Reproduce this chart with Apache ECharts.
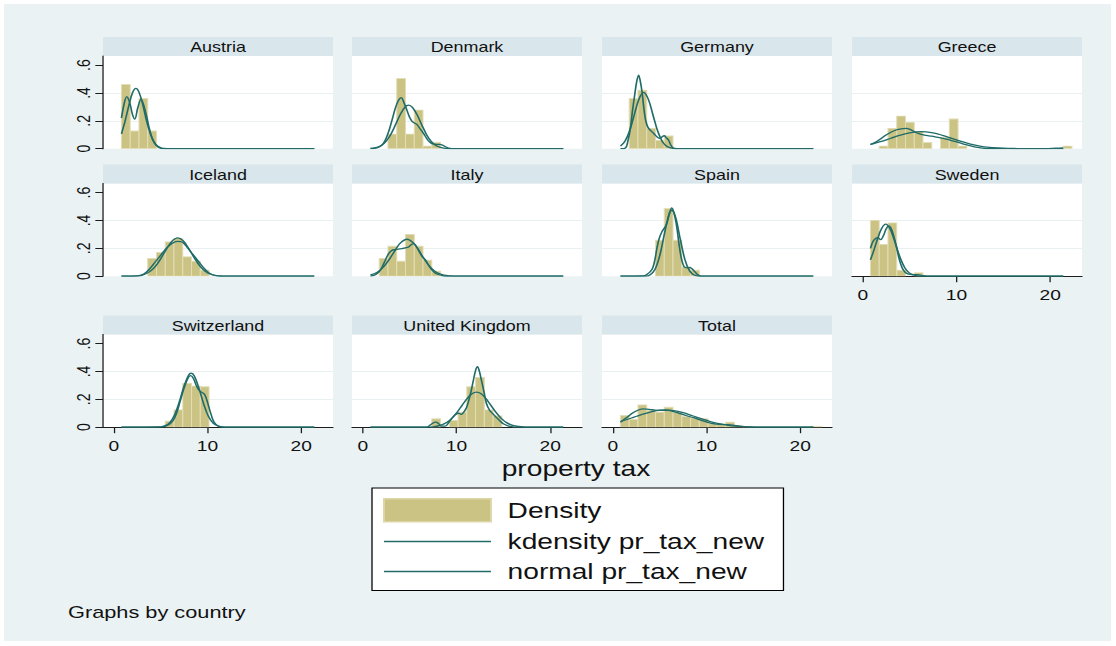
<!DOCTYPE html>
<html><head><meta charset="utf-8">
<script src="https://cdn.jsdelivr.net/npm/echarts@6/dist/echarts.min.js"></script>
<style>
html,body{margin:0;padding:0;background:#ffffff;overflow:hidden;width:1116px;height:646px;}
#bg{position:absolute;left:4px;top:4px;width:1107px;height:637px;background:#eaf2f3;}
#c{position:absolute;left:0;top:0;width:872px;height:646px;transform:scaleX(1.279817);transform-origin:0 0;}
</style></head><body><div id="bg"></div><div id="c"></div>
<script>
// ---------------- data ----------------
const countries = ['Austria','Denmark','Germany','Greece','Iceland','Italy','Spain','Sweden','Switzerland','United Kingdom','Total'];
const xTicks = [0, 10, 20];
const yTicks = [0, 0.2, 0.4, 0.6];
const binEdges = [0.82,1.755,2.69,3.625,4.56,5.495,6.43,7.365,8.30,9.235,10.17,11.105,12.04,12.975,13.91,14.845,15.78,16.715,17.65,18.585,19.52,20.455,21.39,22.325];

const histAustria = [0.46,0.127,0.36,0.127];
const histDenmark = [0,0,0.105,0.504,0.105,0.277,0.019,0.045];
const histGermany = [0,0.361,0.42,0.146,0.06,0.091];
const histGreece = [0,0.019,0.146,0.234,0.189,0.122,0.045,0,0.079,0.213,0.019,0,0,0,0,0,0,0,0,0,0,0,0.019];
const histIceland = [0,0,0,0.127,0.17,0.246,0.27,0.139,0.108,0.043];
const histItaly = [0,0.127,0.215,0.108,0.299,0.215,0.115,0.036];
const histSpain = [0,0,0,0,0.258,0.485,0.258,0.067,0.043];
const histSweden = [0.401,0.229,0.382,0.043,0,0.024];
const histSwitzerland = [0,0,0,0,0,0.043,0.124,0.315,0.295,0.29];
const histUK = [0,0,0,0,0,0,0,0.06,0,0.048,0.108,0.29,0.358,0.124,0.081];
const histTotal = [0.084,0.055,0.16,0.12,0.108,0.143,0.108,0.076,0.065,0.06,0.024,0.019,0.036,0.012,0.005,0,0,0,0,0,0,0,0.005];

const kdAustria = [[0.82,0.22],[1.1,0.32],[1.38,0.373],[1.7,0.33],[2.0,0.245],[2.25,0.213],[2.55,0.29],[2.9,0.356],[3.43,0.253],[3.79,0.146],[4.1,0.075],[4.5,0.026],[5.04,0.002],[5.6,0],[21.4,0]];
const nmAustria = [[0.82,0.107],[1.2,0.196],[1.6,0.307],[2.0,0.401],[2.36,0.433],[2.7,0.404],[3.1,0.315],[3.5,0.2],[3.9,0.107],[4.3,0.047],[4.7,0.017],[5.1,0.005],[5.6,0.001],[6.0,0],[21.4,0]];

const kdDenmark = [[0.82,0],[1.5,0.005],[2.06,0.026],[2.4,0.06],[2.76,0.122],[3.1,0.2],[3.47,0.289],[3.8,0.345],[4.11,0.366],[4.4,0.33],[4.71,0.277],[5.0,0.225],[5.24,0.198],[5.5,0.185],[5.77,0.174],[6.1,0.145],[6.48,0.11],[6.85,0.07],[7.19,0.045],[7.6,0.033],[8.07,0.031],[8.5,0.026],[8.9,0.012],[9.31,0.002],[9.8,0],[21.4,0]];
const nmDenmark = [[0.82,0.002],[1.5,0.009],[2.0,0.024],[2.5,0.054],[3.0,0.104],[3.5,0.173],[4.0,0.245],[4.5,0.299],[4.89,0.313],[5.3,0.297],[5.8,0.243],[6.3,0.17],[6.8,0.102],[7.3,0.052],[7.8,0.023],[8.3,0.009],[8.8,0.003],[9.5,0],[21.4,0]];

const kdGermany = [[0.82,0],[1.35,0.005],[1.6,0.05],[1.88,0.146],[2.1,0.27],[2.34,0.385],[2.55,0.48],[2.76,0.528],[2.95,0.48],[3.12,0.409],[3.3,0.3],[3.47,0.217],[3.65,0.17],[3.83,0.146],[4.2,0.12],[4.53,0.098],[4.8,0.08],[5.06,0.074],[5.3,0.088],[5.49,0.093],[5.7,0.08],[5.95,0.062],[6.2,0.025],[6.48,0.003],[6.8,0],[21.4,0]];
const nmGermany = [[0.82,0.018],[1.3,0.053],[1.8,0.129],[2.3,0.245],[2.8,0.357],[3.29,0.404],[3.8,0.354],[4.3,0.24],[4.8,0.125],[5.3,0.05],[5.8,0.016],[6.3,0.004],[6.8,0.001],[7.3,0],[21.4,0]];

const kdGreece = [[0.82,0.03],[1.5,0.052],[2.0,0.075],[2.49,0.098],[3.0,0.118],[3.55,0.134],[4.1,0.143],[4.62,0.146],[5.1,0.137],[5.51,0.122],[6.0,0.108],[6.58,0.098],[7.1,0.092],[7.65,0.086],[8.3,0.078],[8.89,0.069],[9.4,0.06],[9.96,0.05],[10.6,0.037],[11.2,0.026],[11.8,0.015],[12.45,0.007],[13.0,0.002],[13.5,0],[19.5,0],[20.6,0.004],[21.4,0.006]];
const nmGreece = [[0.82,0.031],[2.0,0.053],[3.0,0.075],[4.0,0.097],[5.0,0.114],[6.22,0.122],[7.5,0.113],[8.5,0.096],[9.5,0.074],[10.5,0.052],[11.5,0.033],[12.5,0.019],[13.5,0.01],[14.5,0.005],[15.5,0.002],[16.5,0.001],[17.5,0],[21.4,0]];

const kdIceland = [[0.82,0],[2.6,0.002],[3.2,0.015],[3.8,0.05],[4.4,0.1],[5.0,0.15],[5.6,0.2],[6.2,0.235],[6.8,0.25],[7.3,0.245],[7.8,0.21],[8.4,0.16],[9.0,0.11],[9.6,0.06],[10.2,0.022],[10.8,0.005],[11.4,0],[21.4,0]];
const nmIceland = [[0.82,0],[2.5,0.003],[3.2,0.012],[3.8,0.031],[4.4,0.067],[5.0,0.124],[5.6,0.192],[6.2,0.25],[6.83,0.275],[7.4,0.255],[8.0,0.198],[8.6,0.131],[9.2,0.073],[9.8,0.034],[10.4,0.013],[11.0,0.004],[11.6,0.001],[12.2,0],[21.4,0]];

const kdItaly = [[0.82,0],[1.4,0.012],[1.9,0.045],[2.3,0.1],[2.76,0.162],[3.1,0.185],[3.47,0.191],[3.8,0.195],[4.18,0.198],[4.55,0.203],[4.89,0.21],[5.15,0.225],[5.42,0.234],[5.7,0.215],[6.0,0.18],[6.35,0.14],[6.7,0.115],[7.05,0.075],[7.4,0.043],[7.75,0.022],[8.1,0.012],[8.5,0.004],[8.8,0],[21.4,0]];
const nmItaly = [[0.82,0.009],[1.5,0.027],[2.0,0.052],[2.5,0.09],[3.0,0.138],[3.5,0.191],[4.0,0.237],[4.71,0.265],[5.4,0.239],[5.9,0.194],[6.4,0.14],[6.9,0.091],[7.4,0.053],[7.9,0.027],[8.4,0.013],[8.9,0.005],[9.5,0.002],[10.0,0],[21.4,0]];

const kdSpain = [[0.82,0],[3.2,0.002],[3.6,0.01],[4.2,0.05],[4.5,0.12],[4.71,0.2],[4.95,0.27],[5.24,0.318],[5.5,0.345],[5.77,0.378],[6.05,0.45],[6.3,0.49],[6.55,0.45],[6.83,0.354],[7.05,0.24],[7.29,0.139],[7.5,0.085],[7.72,0.062],[8.0,0.06],[8.25,0.062],[8.5,0.05],[8.78,0.031],[9.05,0.012],[9.31,0.002],[9.7,0],[21.4,0]];
const nmSpain = [[0.82,0],[3.5,0.001],[4.0,0.011],[4.5,0.048],[5.0,0.144],[5.5,0.3],[6.0,0.444],[6.3,0.473],[6.7,0.423],[7.2,0.267],[7.7,0.119],[8.2,0.038],[8.7,0.008],[9.2,0.001],[9.7,0],[21.4,0]];

const kdSweden = [[0.82,0.2],[1.1,0.25],[1.4,0.272],[1.6,0.277],[1.9,0.262],[2.2,0.29],[2.5,0.34],[2.75,0.36],[3.0,0.345],[3.3,0.29],[3.6,0.21],[3.9,0.12],[4.2,0.06],[4.5,0.03],[4.9,0.015],[5.4,0.012],[5.9,0.011],[6.3,0.006],[6.8,0],[21.4,0]];
const nmSweden = [[0.82,0.117],[1.2,0.189],[1.6,0.272],[2.0,0.341],[2.45,0.373],[2.9,0.341],[3.3,0.272],[3.7,0.189],[4.1,0.114],[4.5,0.059],[4.9,0.027],[5.3,0.011],[5.8,0.003],[6.3,0],[21.4,0]];

const kdSwitzerland = [[0.82,0],[5.3,0.003],[5.8,0.015],[6.3,0.045],[6.7,0.1],[7.1,0.19],[7.5,0.28],[7.9,0.35],[8.2,0.37],[8.5,0.35],[8.8,0.3],[9.1,0.265],[9.4,0.25],[9.7,0.235],[10.0,0.18],[10.3,0.11],[10.6,0.05],[10.9,0.02],[11.3,0.004],[11.7,0],[21.4,0]];
const nmSwitzerland = [[0.82,0],[5.0,0.002],[5.5,0.011],[6.0,0.035],[6.5,0.09],[7.0,0.183],[7.5,0.295],[8.0,0.375],[8.26,0.387],[8.6,0.367],[9.1,0.277],[9.6,0.166],[10.1,0.078],[10.6,0.029],[11.1,0.009],[11.6,0.002],[12.1,0],[21.4,0]];

const kdUK = [[0.82,0],[6.8,0],[7.2,0.015],[7.5,0.03],[7.8,0.036],[8.1,0.025],[8.4,0.008],[8.8,0.008],[9.3,0.045],[9.8,0.085],[10.2,0.1],[10.5,0.092],[10.8,0.11],[11.1,0.145],[11.5,0.24],[11.8,0.335],[12.05,0.41],[12.24,0.435],[12.45,0.4],[12.67,0.335],[12.95,0.25],[13.2,0.17],[13.55,0.12],[13.9,0.096],[14.25,0.07],[14.6,0.048],[15.0,0.025],[15.5,0.01],[16.0,0.002],[16.4,0],[21.4,0]];
const nmUK = [[0.82,0],[6.5,0.001],[7.5,0.003],[8.5,0.018],[9.3,0.05],[10.0,0.101],[10.6,0.157],[11.2,0.211],[11.7,0.241],[12.14,0.251],[12.6,0.241],[13.1,0.209],[13.6,0.164],[14.2,0.108],[14.8,0.062],[15.4,0.031],[16.0,0.013],[16.6,0.005],[17.3,0.001],[18.0,0],[21.4,0]];

const kdTotal = [[0.82,0.036],[1.5,0.07],[2.2,0.105],[2.8,0.125],[3.3,0.131],[3.9,0.128],[4.5,0.122],[5.2,0.12],[5.9,0.12],[6.5,0.112],[7.2,0.097],[7.9,0.082],[8.6,0.068],[9.3,0.053],[10.0,0.038],[10.7,0.026],[11.4,0.02],[12.1,0.018],[12.8,0.015],[13.5,0.008],[14.3,0.003],[15.2,0],[20.5,0],[21.4,0.002]];
const nmTotal = [[0.82,0.041],[2.0,0.066],[3.0,0.089],[4.0,0.109],[5.0,0.122],[5.6,0.124],[6.5,0.119],[7.5,0.104],[8.5,0.082],[9.5,0.059],[10.5,0.039],[11.5,0.023],[12.5,0.012],[13.5,0.006],[14.5,0.0026],[15.5,0.001],[16.5,0],[21.4,0]];

const histData = [histAustria,histDenmark,histGermany,histGreece,histIceland,histItaly,histSpain,histSweden,histSwitzerland,histUK,histTotal];
const kdData = [kdAustria,kdDenmark,kdGermany,kdGreece,kdIceland,kdItaly,kdSpain,kdSweden,kdSwitzerland,kdUK,kdTotal];
const nmData = [nmAustria,nmDenmark,nmGermany,nmGreece,nmIceland,nmItaly,nmSpain,nmSweden,nmSwitzerland,nmUK,nmTotal];

// ---------------- layout & style ----------------
const S = 1116 / 872;            // horizontal stretch of the reference picture
const X = v => v / S;
const FONT = '"Liberation Sans", Arial, sans-serif';
const colLeft = [103, 352, 602, 852];
const rowTop = [56, 183.5, 334.5];
const plotW = 230, plotH = 92.7, stripH = 19;
const barFill = '#cbc384', barStroke = '#e2ddb6';
const lineColor = '#216c68';
const stripColor = '#d9e6eb';
const gridColor = '#e9f0f1';
const axisColor = '#1c1c1c';

const grids = [], xAxes = [], yAxes = [], series = [], graphics = [];
countries.forEach((name, k) => {
  const c = k % 4, r = Math.floor(k / 4);
  const showX = (r === 2) || (k === 7);
  const showY = (c === 0);
  const left = X(colLeft[c]), top = rowTop[r];
  grids.push({left, top, width: X(plotW), height: plotH, show: true, backgroundColor: '#ffffff', borderWidth: 0});
  xAxes.push({
    type: 'value', gridIndex: k, min: -1.15, max: 23.4,
    axisLine: {show: showX, onZero: false, lineStyle: {color: axisColor, width: 1}},
    axisTick: {show: showX, length: 6, customValues: xTicks, lineStyle: {color: axisColor}},
    axisLabel: {show: showX, customValues: xTicks, margin: 11, fontSize: 15, fontFamily: FONT, color: '#111'},
    splitLine: {show: false}
  });
  yAxes.push({
    type: 'value', gridIndex: k, min: 0, max: 0.665, interval: 0.2,
    axisLine: {show: showY, onZero: false, lineStyle: {color: axisColor, width: 1}},
    axisTick: {show: showY, length: 6, customValues: yTicks, lineStyle: {color: axisColor}},
    axisLabel: {show: showY, customValues: yTicks, rotate: 90, margin: 8, fontSize: 14, fontFamily: FONT, color: '#111',
      formatter: v => (v === 0 ? '0' : '.' + Math.round(v * 10))},
    splitLine: {show: true, showMinLine: false, showMaxLine: false, lineStyle: {color: gridColor, width: 1}}
  });
  const bins = [];
  histData[k].forEach((h, i) => { if (h > 0) bins.push([binEdges[i], binEdges[i + 1], h]); });
  series.push({
    type: 'custom', name: 'Density', xAxisIndex: k, yAxisIndex: k, data: bins,
    encode: {x: [0, 1], y: 2}, silent: true, clip: true, z: 2,
    itemStyle: {color: barFill},
    renderItem: (p, api) => {
      const a = api.coord([api.value(0), api.value(2)]);
      const b = api.coord([api.value(1), 0]);
      return {type: 'rect', shape: {x: a[0], y: a[1], width: b[0] - a[0], height: b[1] - a[1]},
        style: {fill: barFill, stroke: barStroke, lineWidth: 0.8}};
    }
  });
  series.push({type: 'line', name: 'kdensity pr_tax_new', xAxisIndex: k, yAxisIndex: k, data: kdData[k],
    symbol: 'none', showSymbol: false, smooth: 0.35, silent: true, z: 3,
    lineStyle: {color: lineColor, width: 1.3}, itemStyle: {color: lineColor}});
  series.push({type: 'line', name: 'normal pr_tax_new', xAxisIndex: k, yAxisIndex: k, data: nmData[k],
    symbol: 'none', showSymbol: false, smooth: 0.35, silent: true, z: 3,
    lineStyle: {color: lineColor, width: 1.3}, itemStyle: {color: lineColor}});
  graphics.push({type: 'rect', shape: {x: left, y: top - stripH, width: X(plotW), height: stripH}, style: {fill: stripColor}, silent: true});
  graphics.push({type: 'text', x: left + X(plotW) / 2, y: top - stripH / 2 + 0.5,
    style: {text: name, fill: '#111', font: '14px ' + FONT, textAlign: 'center', textVerticalAlign: 'middle'}, silent: true});
});

graphics.push({type: 'text', x: X(576), y: 468,
  style: {text: 'property tax', fill: '#111', font: '22px ' + FONT, textAlign: 'center', textVerticalAlign: 'middle'}, silent: true});
graphics.push({type: 'text', x: X(68), y: 612,
  style: {text: 'Graphs by country', fill: '#111', font: '17px ' + FONT, textAlign: 'left', textVerticalAlign: 'middle'}, silent: true});

const lineIcon = 'path://M0,0h0.01v0.01h-0.01z M0,10.7h100v1.8h-100z M99.99,22.99h0.01v0.01h-0.01z';

const chart = echarts.init(document.getElementById('c'), null, {renderer: 'svg'});
chart.setOption({
  backgroundColor: 'transparent',
  animation: false,
  grid: grids,
  xAxis: xAxes,
  yAxis: yAxes,
  series: series,
  graphic: graphics,
  legend: {
    orient: 'vertical', left: X(372), top: 488, selectedMode: false,
    backgroundColor: '#ffffff', borderColor: '#000', borderWidth: 1,
    padding: [10, 15, 8, X(11)], itemWidth: X(107), itemHeight: 23, itemGap: 8,
    textStyle: {fontSize: 22, fontFamily: FONT, color: '#111', padding: [0, 0, 0, 8]},
    data: [
      {name: 'Density', icon: 'rect', itemStyle: {color: barFill, borderColor: '#ddd7a8', borderWidth: 1.5}},
      {name: 'kdensity pr_tax_new', icon: lineIcon, itemStyle: {color: lineColor, borderWidth: 0}},
      {name: 'normal pr_tax_new', icon: lineIcon, itemStyle: {color: lineColor, borderWidth: 0}}
    ]
  }
});
</script></body></html>
